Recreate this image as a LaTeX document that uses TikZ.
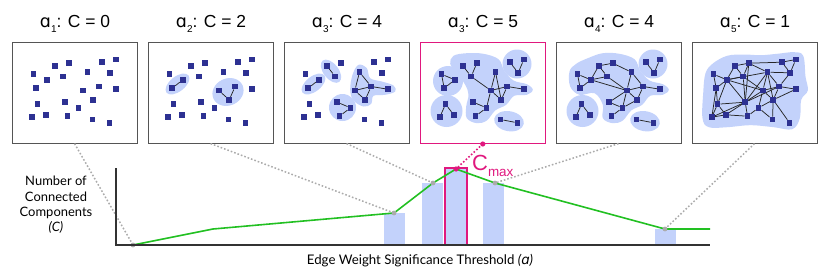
\documentclass[tikz,border=0pt]{standalone}
\usepackage{fontspec}
\setmainfont{Liberation Sans}
\newfontfamily\latofont{Lato}
\newfontfamily\djv{DejaVu Sans}
\usetikzlibrary{calc}
\pgfdeclarelayer{blobs}
\pgfdeclarelayer{edges}
\pgfsetlayers{blobs,edges,main}
\definecolor{navy}{HTML}{2D3192}
\definecolor{blobc}{HTML}{C3D2FB}
\definecolor{mag}{HTML}{E0187E}
\definecolor{grn}{HTML}{22C022}
\definecolor{dotgray}{HTML}{ABABAB}
\definecolor{framec}{HTML}{555555}
\definecolor{axisc}{HTML}{333333}
\def\vlist{1/43.3/24.3,2/57.3/21.7,3/90.3/20.7,4/104.3/18,5/22/32.7,6/35.3/38.3,7/51.7/35,8/76/30.7,9/98.7/31.3,10/24.7/46.7,11/71.3/49,12/87.7/45,13/104.3/47.7,14/26/62.7,15/53.7/60.7,16/81.7/58.3,17/67/66.3,18/20.3/75.7,19/34.3/73.3,20/56/74.7,21/81/78,22/98/81.3}
\tikzset{
  vtx/.style={rectangle, fill=navy, draw=none, minimum size=5.6bp, inner sep=0pt},
  edge/.style={draw=black!85, line width=0.75bp},
  panelbox/.style={draw=framec, line width=1.1bp, minimum width=125bp, minimum height=101bp, anchor=north west, inner sep=0pt},
  cmaxbox/.style={panelbox, draw=mag, line width=1.5bp},
  blob/.style={fill=blobc},
  ttl/.style={anchor=base, inner sep=0pt, font=\fontsize{17.5}{17.5}\selectfont},
  gdot/.style={draw=dotgray, line width=1.5bp, dash pattern=on 1.6bp off 2bp},
  mdot/.style={draw=mag, line width=1.6bp, dash pattern=on 1.6bp off 2bp},
  gline/.style={draw=grn, line width=1.6bp},
  bar/.style={fill=blobc},
  axis/.style={draw=axisc, line width=1.3bp}
}
\newcommand\mkverts[2]{%
  \begin{scope}[shift={(#2,41.5)}]
  \foreach \i/\x/\y in \vlist {\node[vtx] (#1n\i) at (\x,\y) {};}
  \end{scope}}
\newcommand\mkedges[2]{%
  \begin{pgfonlayer}{edges}
  \foreach \a/\b in {#2} {\draw[edge] (#1n\a) -- (#1n\b);}
  \end{pgfonlayer}}
\newcommand\ttltext[2]{{\djv ɑ}\raisebox{-0.3em}{\fontsize{10}{10}\selectfont #1}: C = #2}
\begin{document}
\begin{tikzpicture}[x=1bp,y=-1bp]
\useasboundingbox (0,0) rectangle (831,279);

% ---------- panels ----------
\node[panelbox] (P1) at (11.5,41.5) {};
\node[panelbox] (P2) at (147.5,41.5) {};
\node[panelbox] (P3) at (283.5,41.5) {};
\node[cmaxbox] (P4) at (419.5,41.5) {};
\node[panelbox] (P5) at (555.5,41.5) {};
\node[panelbox] (P6) at (691.5,41.5) {};

\node[ttl] (T1) at (75,27) {\ttltext{1}{0}};
\node[ttl] (T2) at (211,27) {\ttltext{2}{2}};
\node[ttl] (T3) at (347,27) {\ttltext{3}{4}};
\node[ttl] (T4) at (483,27) {\ttltext{3}{5}};
\node[ttl] (T5) at (619,27) {\ttltext{4}{4}};
\node[ttl] (T6) at (755,27) {\ttltext{5}{1}};

% ---------- blobs ----------
\begin{pgfonlayer}{blobs}
\begin{scope}[shift={(147.5,41.5)}]
  \fill[blob, rotate around={38:(30,42.5)}] (30,42.5) ellipse [x radius=14, y radius=7.5];
  \fill[blob, rotate around={25:(80.5,50.5)}] (80.5,50.5) ellipse [x radius=16, y radius=13.5];
\end{scope}
\begin{scope}[shift={(283.5,41.5)}]
  \fill[blob, rotate around={38:(30,42.5)}] (30,42.5) ellipse [x radius=14, y radius=7.5];
  \fill[blob, rotate around={-52:(47.5,29.7)}] (47.5,29.7) ellipse [x radius=13.5, y radius=7.5];
  \fill[blob] (59,66) circle [radius=13.5];
  \fill[blob] plot[smooth cycle, tension=0.6] coordinates {(75,23.3) (83.3,26.7) (86.7,36.7) (98.3,40) (110,44) (111.7,50) (101.7,53.3) (90,54.3) (87.7,62.3) (80,65) (70,59) (66.7,48.3) (69,33.3)};
\end{scope}
\begin{scope}[shift={(419.5,41.5)}]
  \fill[blob] (28.5,39.5) circle [radius=15];
  \fill[blob] (97.5,22.5) circle [radius=14.5];
  \fill[blob] (27,69.5) circle [radius=16];
  \fill[blob, rotate around={-10:(89.5,79.7)}] (89.5,79.7) ellipse [x radius=15, y radius=10];
  \fill[blob] plot[smooth cycle, tension=0.6] coordinates {(34,14.3) (30.7,22.3) (37.3,31.7) (45.7,43.3) (49,53.3) (46.7,65) (47.3,76.7) (57.3,81.7) (67.3,79) (75.7,69) (86.7,63.3) (94.7,54.3) (107.3,53.3) (113.3,48.3) (107.3,42.7) (94,39) (84.7,29) (79,17.7) (64,12.3) (47.3,11.7)};
\end{scope}
\begin{scope}[shift={(555.5,41.5)}]
  \fill[blob] (97.5,22.5) circle [radius=14.5];
  \fill[blob] (27,69.5) circle [radius=16];
  \fill[blob, rotate around={-10:(89.5,79.7)}] (89.5,79.7) ellipse [x radius=15, y radius=10];
  \fill[blob] plot[smooth cycle, tension=0.6] coordinates {(14,30) (14.7,45) (24,53.3) (39,51.7) (47.3,63.3) (47.3,76.7) (57.3,81.7) (67.3,79) (75.7,69) (86.7,63.3) (94.7,54.3) (107.3,53.3) (113.3,48.3) (107.3,42.7) (94,39) (84.7,29) (79,17.7) (64,12.3) (47.3,11.7) (32.3,16.7) (20.7,22.3)};
\end{scope}
\begin{scope}[shift={(691.5,41.5)}]
  \fill[blob] plot[smooth cycle, tension=0.6] coordinates {(35.7,14.3) (52.3,13) (69,13.7) (85.7,12.3) (102.3,10.7) (111.7,14.3) (114,35) (116.3,49) (109.7,58.3) (108.3,76.7) (100.7,87.7) (82.3,85.7) (59,83.7) (35.7,85.7) (17.3,85.7) (11,76.7) (11.7,51.7) (14,31.7) (21.7,21.7)};
\end{scope}
\end{pgfonlayer}

% ---------- vertices ----------
\mkverts{A}{11.5}
\mkverts{B}{147.5}
\mkverts{C}{283.5}
\mkverts{D}{419.5}
\mkverts{E}{555.5}
\mkverts{F}{691.5}

% ---------- edges ----------
\mkedges{B}{6/10,11/16,16/12}
\mkedges{C}{1/7,6/10,8/11,8/12,11/12,12/13,11/16,16/12,15/17,17/20}
\mkedges{D}{5/6,6/10,10/5,1/7,2/7,7/11,8/11,8/16,11/12,11/16,12/16,12/13,11/17,15/17,17/20,3/9,9/4,14/18,14/19,21/22}
\mkedges{E}{5/6,5/10,6/10,6/1,1/2,1/7,2/8,6/7,6/11,7/11,8/11,8/12,11/12,11/16,12/16,12/13,11/15,11/17,15/17,17/16,17/20,3/9,9/4,14/18,14/19,21/22}
\mkedges{F}{5/6,5/10,6/10,6/1,1/2,1/7,2/7,2/3,3/4,3/9,4/9,2/8,8/9,6/7,6/8,6/11,6/14,6/15,10/14,10/18,14/18,14/19,18/19,18/15,19/15,14/15,2/15,7/11,7/15,8/11,8/12,8/15,8/16,9/12,11/12,11/16,11/17,11/15,12/13,12/16,12/15,16/17,16/21,16/22,17/20,17/21,15/20,13/16,20/19}

% ---------- plot ----------
\coordinate (g0) at (133,245);
\coordinate (g1) at (213,229);
\coordinate (g2) at (394,213);
\coordinate (g3) at (433,183);
\coordinate (g4) at (456,169);
\coordinate (g5) at (495,183);
\coordinate (g6) at (665,229);
\coordinate (g7) at (710,229);

\fill[bar] (384,213) rectangle (405,245);
\fill[bar] (422,183) rectangle (443,245);
\fill[bar] (446,169) rectangle (466,245);
\fill[bar] (483,183) rectangle (504,245);
\fill[bar] (655,229) rectangle (676,245);
\draw[draw=mag, line width=1.5bp] (445,245) rectangle (467,168);

\draw[gdot] (P1.south) -- (g0);
\draw[gdot] (P2.south) -- (g2);
\draw[gdot] (P3.south) -- (g3);
\draw[gdot] (P5.south) -- (g5);
\draw[gdot] (P6.south) -- (g6);
\draw[mdot] (P4.south) -- (g4);

\draw[gline, line join=round] (g0) -- (g1) -- (g2) -- (g3) -- (g4) -- (g5) -- (g6) -- (g7);

\foreach \p in {g0,g2,g3,g5,g6} {\fill[dotgray] (\p) circle [radius=2.4];}
\fill[mag] (g4) circle [radius=2.6];
\fill[mag] (P4.south) circle [radius=2.6];

\draw[axis] (116,168) -- (116,245) -- (710,245);

\node[anchor=base west, text=mag, inner sep=0pt] (cmax) at (472,170) {\fontsize{22}{22}\selectfont C\raisebox{-6bp}{\fontsize{13.5}{13.5}\selectfont max}};

\node[align=center, inner sep=0pt, font=\latofont\fontsize{13}{15.3}\selectfont] (ylab) at (56,205) {Number of\\Connected\\Components\\\textit{(C)}};
\node[inner sep=0pt, font=\latofont\fontsize{13.3}{14}\selectfont] (xlab) at (420,261) {Edge Weight Significance Threshold \textit{({\djv ɑ})}};
\end{tikzpicture}
\end{document}
